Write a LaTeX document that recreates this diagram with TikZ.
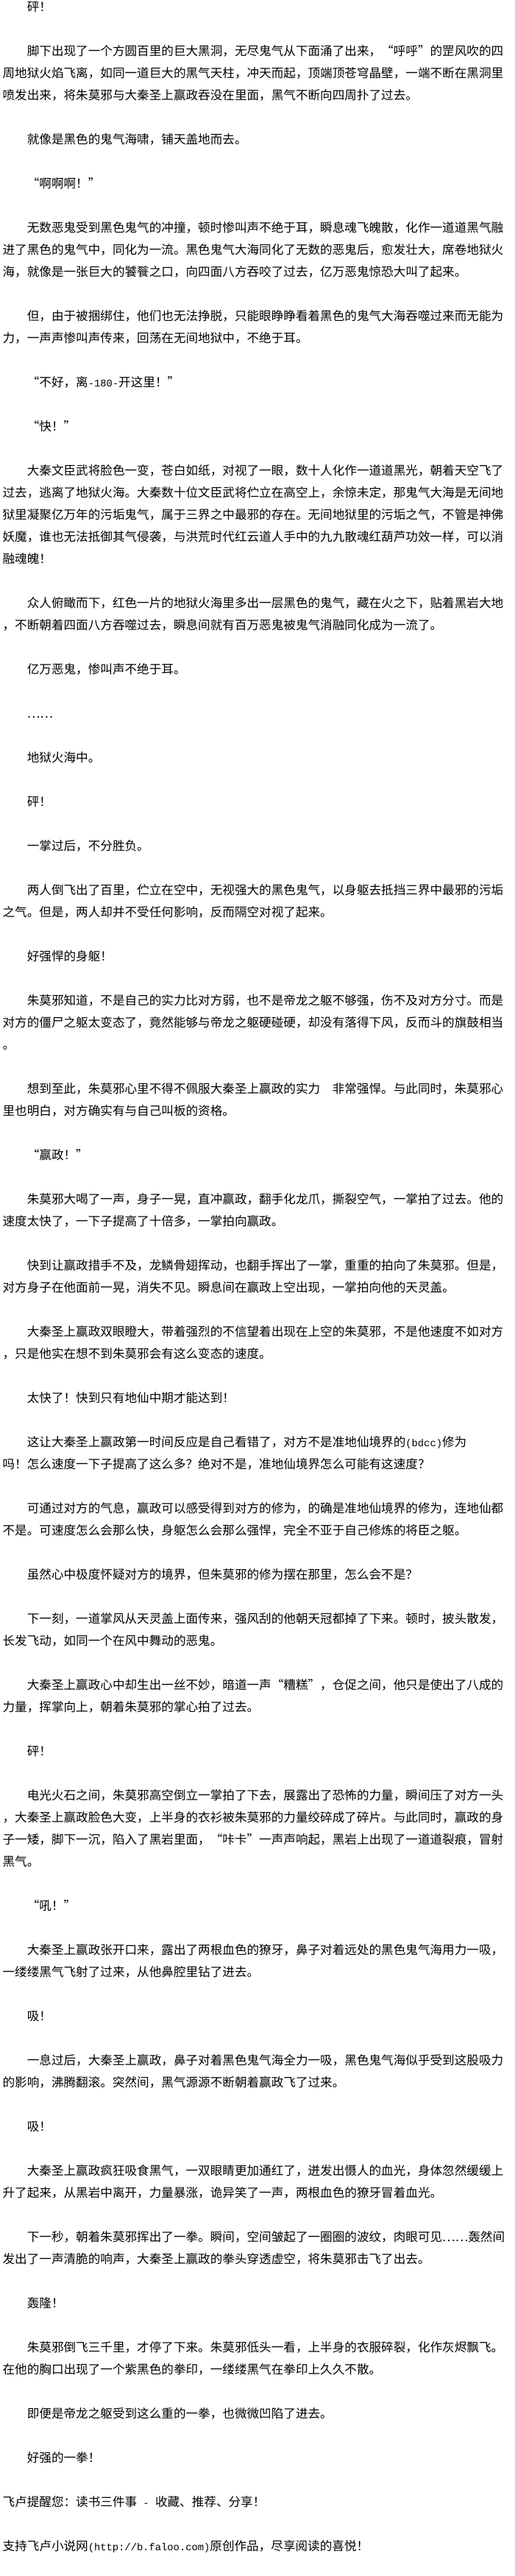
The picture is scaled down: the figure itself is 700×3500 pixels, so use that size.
\documentclass[tikz,border=0pt]{standalone}
\usepackage{fontspec}
\newfontfamily\cjk{Noto Sans CJK SC}
\newfontfamily\monof{Liberation Mono}
\newcommand\oq{\makebox[1em][r]{“}}
\newcommand\cq{\makebox[1em][l]{”}}
\newcommand\asc[1]{{\monof\fontsize{13.8}{13.8}\selectfont #1}}
\tikzset{
  para/.style={anchor=base west, inner sep=0pt, outer sep=0pt,
    font=\cjk\fontsize{16.6}{16.6}\selectfont, text=black},
}
\newcommand\Ln[3]{\node[para] (l#1) at (#2,{15.1+30*#1}) {#3};}
\newcommand\PI[2]{\Ln{#1}{36.8}{#2}}
\newcommand\PC[2]{\Ln{#1}{3.6}{#2}}
\begin{document}
\begin{tikzpicture}[x=1pt,y=-1pt]
\fill[white] (0,0) rectangle (700,3500);
\useasboundingbox (0,0) rectangle (700,3500);
\PI{0}{砰！}
\PI{2}{脚下出现了一个方圆百里的巨大黑洞，无尽鬼气从下面涌了出来，\oq 呼呼\cq 的罡风吹的四}
\PC{3}{周地狱火焰飞离，如同一道巨大的黑气天柱，冲天而起，顶端顶苍穹晶壁，一端不断在黑洞里}
\PC{4}{喷发出来，将朱莫邪与大秦圣上赢政吞没在里面，黑气不断向四周扑了过去。}
\PI{6}{就像是黑色的鬼气海啸，铺天盖地而去。}
\PI{8}{\oq 啊啊啊！\cq}
\PI{10}{无数恶鬼受到黑色鬼气的冲撞，顿时惨叫声不绝于耳，瞬息魂飞魄散，化作一道道黑气融}
\PC{11}{进了黑色的鬼气中，同化为一流。黑色鬼气大海同化了无数的恶鬼后，愈发壮大，席卷地狱火}
\PC{12}{海，就像是一张巨大的饕餮之口，向四面八方吞咬了过去，亿万恶鬼惊恐大叫了起来。}
\PI{14}{但，由于被捆绑住，他们也无法挣脱，只能眼睁睁看着黑色的鬼气大海吞噬过来而无能为}
\PC{15}{力，一声声惨叫声传来，回荡在无间地狱中，不绝于耳。}
\PI{17}{\oq 不好，离\asc{-180-}开这里！\cq}
\PI{19}{\oq 快！\cq}
\PI{21}{大秦文臣武将脸色一变，苍白如纸，对视了一眼，数十人化作一道道黑光，朝着天空飞了}
\PC{22}{过去，逃离了地狱火海。大秦数十位文臣武将伫立在高空上，余惊未定，那鬼气大海是无间地}
\PC{23}{狱里凝聚亿万年的污垢鬼气，属于三界之中最邪的存在。无间地狱里的污垢之气，不管是神佛}
\PC{24}{妖魔，谁也无法抵御其气侵袭，与洪荒时代红云道人手中的九九散魂红葫芦功效一样，可以消}
\PC{25}{融魂魄！}
\PI{27}{众人俯瞰而下，红色一片的地狱火海里多出一层黑色的鬼气，藏在火之下，贴着黑岩大地}
\PC{28}{，不断朝着四面八方吞噬过去，瞬息间就有百万恶鬼被鬼气消融同化成为一流了。}
\PI{30}{亿万恶鬼，惨叫声不绝于耳。}
\PI{32}{……}
\PI{34}{地狱火海中。}
\PI{36}{砰！}
\PI{38}{一掌过后，不分胜负。}
\PI{40}{两人倒飞出了百里，伫立在空中，无视强大的黑色鬼气，以身躯去抵挡三界中最邪的污垢}
\PC{41}{之气。但是，两人却并不受任何影响，反而隔空对视了起来。}
\PI{43}{好强悍的身躯！}
\PI{45}{朱莫邪知道，不是自己的实力比对方弱，也不是帝龙之躯不够强，伤不及对方分寸。而是}
\PC{46}{对方的僵尸之躯太变态了，竟然能够与帝龙之躯硬碰硬，却没有落得下风，反而斗的旗鼓相当}
\PC{47}{。}
\PI{49}{想到至此，朱莫邪心里不得不佩服大秦圣上赢政的实力　非常强悍。与此同时，朱莫邪心}
\PC{50}{里也明白，对方确实有与自己叫板的资格。}
\PI{52}{\oq 赢政！\cq}
\PI{54}{朱莫邪大喝了一声，身子一晃，直冲赢政，翻手化龙爪，撕裂空气，一掌拍了过去。他的}
\PC{55}{速度太快了，一下子提高了十倍多，一掌拍向赢政。}
\PI{57}{快到让赢政措手不及，龙鳞骨翅挥动，也翻手挥出了一掌，重重的拍向了朱莫邪。但是，}
\PC{58}{对方身子在他面前一晃，消失不见。瞬息间在赢政上空出现，一掌拍向他的天灵盖。}
\PI{60}{大秦圣上赢政双眼瞪大，带着强烈的不信望着出现在上空的朱莫邪，不是他速度不如对方}
\PC{61}{，只是他实在想不到朱莫邪会有这么变态的速度。}
\PI{63}{太快了！快到只有地仙中期才能达到！}
\PI{65}{这让大秦圣上赢政第一时间反应是自己看错了，对方不是准地仙境界的\asc{(bdcc)}修为}
\PC{66}{吗！怎么速度一下子提高了这么多？绝对不是，准地仙境界怎么可能有这速度？}
\PI{68}{可通过对方的气息，赢政可以感受得到对方的修为，的确是准地仙境界的修为，连地仙都}
\PC{69}{不是。可速度怎么会那么快，身躯怎么会那么强悍，完全不亚于自己修炼的将臣之躯。}
\PI{71}{虽然心中极度怀疑对方的境界，但朱莫邪的修为摆在那里，怎么会不是？}
\PI{73}{下一刻，一道掌风从天灵盖上面传来，强风刮的他朝天冠都掉了下来。顿时，披头散发，}
\PC{74}{长发飞动，如同一个在风中舞动的恶鬼。}
\PI{76}{大秦圣上赢政心中却生出一丝不妙，暗道一声\oq 糟糕\cq ，仓促之间，他只是使出了八成的}
\PC{77}{力量，挥掌向上，朝着朱莫邪的掌心拍了过去。}
\PI{79}{砰！}
\PI{81}{电光火石之间，朱莫邪高空倒立一掌拍了下去，展露出了恐怖的力量，瞬间压了对方一头}
\PC{82}{，大秦圣上赢政脸色大变，上半身的衣衫被朱莫邪的力量绞碎成了碎片。与此同时，赢政的身}
\PC{83}{子一矮，脚下一沉，陷入了黑岩里面，\oq 咔卡\cq 一声声响起，黑岩上出现了一道道裂痕，冒射}
\PC{84}{黑气。}
\PI{86}{\oq 吼！\cq}
\PI{88}{大秦圣上赢政张开口来，露出了两根血色的獠牙，鼻子对着远处的黑色鬼气海用力一吸，}
\PC{89}{一缕缕黑气飞射了过来，从他鼻腔里钻了进去。}
\PI{91}{吸！}
\PI{93}{一息过后，大秦圣上赢政，鼻子对着黑色鬼气海全力一吸，黑色鬼气海似乎受到这股吸力}
\PC{94}{的影响，沸腾翻滚。突然间，黑气源源不断朝着赢政飞了过来。}
\PI{96}{吸！}
\PI{98}{大秦圣上赢政疯狂吸食黑气，一双眼睛更加通红了，迸发出慑人的血光，身体忽然缓缓上}
\PC{99}{升了起来，从黑岩中离开，力量暴涨，诡异笑了一声，两根血色的獠牙冒着血光。}
\PI{101}{下一秒，朝着朱莫邪挥出了一拳。瞬间，空间皱起了一圈圈的波纹，肉眼可见……轰然间}
\PC{102}{发出了一声清脆的响声，大秦圣上赢政的拳头穿透虚空，将朱莫邪击飞了出去。}
\PI{104}{轰隆！}
\PI{106}{朱莫邪倒飞三千里，才停了下来。朱莫邪低头一看，上半身的衣服碎裂，化作灰烬飘飞。}
\PC{107}{在他的胸口出现了一个紫黑色的拳印，一缕缕黑气在拳印上久久不散。}
\PI{109}{即便是帝龙之躯受到这么重的一拳，也微微凹陷了进去。}
\PI{111}{好强的一拳！}
\PC{113}{飞卢提醒您：读书三件事\asc{ - }收藏、推荐、分享！}
\PC{115}{支持飞卢小说网\asc{(http://b.faloo.com)}原创作品，尽享阅读的喜悦！}
\end{tikzpicture}
\end{document}
